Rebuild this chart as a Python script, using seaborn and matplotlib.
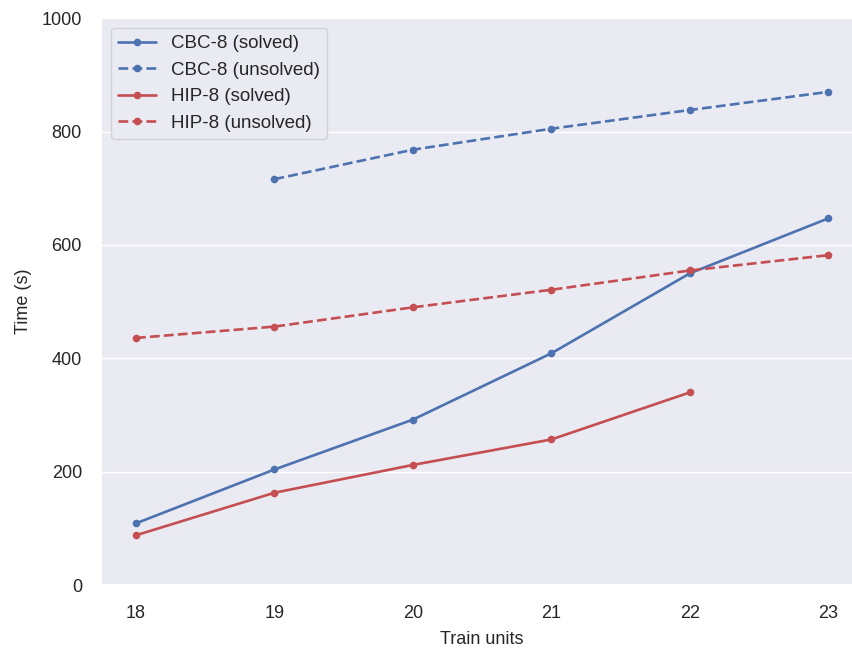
import matplotlib
matplotlib.use("Agg")
import matplotlib.pyplot as plt
import seaborn as sns
import pandas as pd

units = [18, 19, 20, 21, 22, 23]
cbc_solved = [109, 204, 292, 409, 550, 647]
cbc_unsolved_units = [19, 20, 21, 22, 23]
cbc_unsolved = [716, 768, 805, 838, 870]
hip_solved_units = [18, 19, 20, 21, 22]
hip_solved = [88, 163, 212, 257, 340]
hip_unsolved = [436, 456, 490, 521, 555, 582]

sns.set_theme(style="darkgrid")
plt.rcParams['font.family'] = ['Liberation Sans', 'DejaVu Sans']

fig, ax = plt.subplots(figsize=(8.52, 6.48), dpi=100)
blue = "#4C72B0"
red = "#C44E52"

series = [
    ("CBC-8 (solved)", units, cbc_solved, blue, "-"),
    ("CBC-8 (unsolved)", cbc_unsolved_units, cbc_unsolved, blue, "--"),
    ("HIP-8 (solved)", hip_solved_units, hip_solved, red, "-"),
    ("HIP-8 (unsolved)", units, hip_unsolved, red, "--"),
]
for label, xs, ys, c, ls in series:
    df = pd.DataFrame({"x": xs, "y": ys})
    sns.lineplot(data=df, x="x", y="y", ax=ax, color=c, linestyle=ls,
                 marker="o", markersize=5.5, markeredgewidth=0, linewidth=1.9,
                 label=label)

ax.set_ylim(0, 1000)
ax.set_xticks(units)
ax.set_xticklabels([str(u) for u in units])
ax.xaxis.grid(False)
ax.set_xlabel("Train units", fontsize=13, labelpad=7)
ax.set_ylabel("Time (s)", fontsize=13, labelpad=7)
ax.tick_params(labelsize=13, pad=8)
leg = ax.legend(loc="upper left", fontsize=13.5, handlelength=2.0)
fig.subplots_adjust(left=0.119, right=1.013, top=0.972, bottom=0.097)
fig.savefig("out.png", dpi=100)
